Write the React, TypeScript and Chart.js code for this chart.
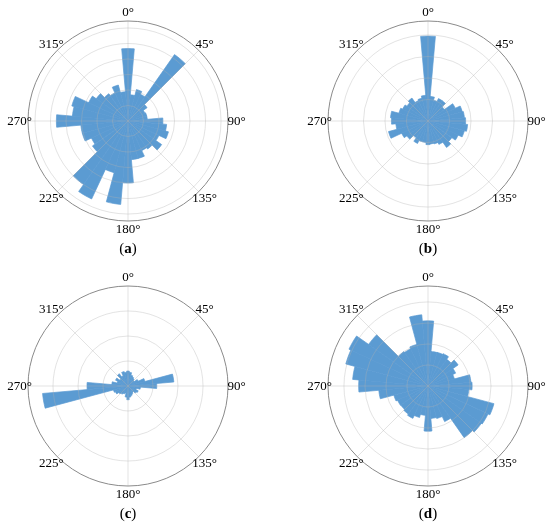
import React, { useEffect, useRef } from 'react';
import { Chart, registerables } from 'chart.js';

Chart.register(...registerables);

// 36 direction bins of 10°, each centred on its label
const binLabels = [
  '0°', '10°', '20°', '30°', '40°', '50°', '60°', '70°', '80°',
  '90°', '100°', '110°', '120°', '130°', '140°', '150°', '160°', '170°',
  '180°', '190°', '200°', '210°', '220°', '230°', '240°', '250°', '260°',
  '270°', '280°', '290°', '300°', '310°', '320°', '330°', '340°', '350°',
];

// angular tick labels
const directionAngles = [0, 45, 90, 135, 180, 225, 270, 315];
const directionLabels = ['0°', '45°', '90°', '135°', '180°', '225°', '270°', '315°'];

// frequencies per bin (radial units = grid rings)
const roseA = [
  4.67, 1.7, 2.1, 1.9, 5.23, 1.5, 1.2, 1.25, 1.25,
  2.25, 2.5, 2.7, 2.2, 2.65, 2.2, 2.1, 2.5, 2.5,
  4.0, 5.4, 3.45, 5.55, 5.0, 2.8, 2.6, 3.05, 3.05,
  4.62, 3.6, 3.75, 2.8, 2.5, 2.15, 2.0, 2.4, 1.9,
];
const roseB = [
  3.95, 1.15, 1.0, 1.15, 1.15, 0.93, 1.4, 1.65, 1.7,
  1.75, 1.85, 1.75, 1.55, 1.35, 1.5, 1.2, 1.1, 1.07,
  1.1, 1.0, 1.0, 1.15, 0.95, 1.2, 1.35, 1.9, 1.5,
  1.7, 1.75, 1.4, 1.3, 1.2, 1.3, 1.05, 1.1, 1.2,
];
const roseC = [
  0.6, 0.55, 0.45, 0.4, 0.35, 0.3, 0.45, 0.7, 1.84,
  1.15, 0.5, 0.35, 0.45, 0.4, 0.3, 0.35, 0.4, 0.45,
  0.55, 0.45, 0.3, 0.35, 0.4, 0.45, 0.55, 0.6, 3.43,
  1.64, 0.65, 0.45, 0.55, 0.4, 0.6, 0.45, 0.6, 0.55,
];
const roseD = [
  3.1, 1.65, 1.66, 1.7, 1.55, 1.75, 1.45, 1.3, 2.05,
  2.1, 1.95, 3.25, 3.15, 3.1, 3.0, 1.87, 1.6, 1.55,
  2.15, 1.4, 1.55, 1.7, 1.63, 1.58, 1.6, 1.68, 2.35,
  3.3, 3.6, 4.05, 4.15, 3.45, 2.0, 1.95, 2.05, 3.4,
];

// radial axis limits (outer circle) per panel
const radialMax = [6.45, 4.65, 4.0, 4.76];
const panelLetters = ['a', 'b', 'c', 'd'];

const BAR = '#5b9bd2';
const RADIUS = 100;
const PAD = 30;
const SIZE = RADIUS * 2 + PAD * 2;

const overlay = {
  id: 'roseOverlay',
  afterDatasetsDraw(chart: any) {
    const r = chart.scales.r;
    const ctx = chart.ctx as CanvasRenderingContext2D;
    const cx = r.xCenter;
    const cy = r.yCenter;
    const R = r.drawingArea;
    ctx.save();
    ctx.strokeStyle = 'rgba(176,176,176,0.45)';
    ctx.lineWidth = 0.8;
    r.ticks.forEach((t: any) => {
      if (t.value > 0 && t.value < r.max) {
        const d = r.getDistanceFromCenterForValue(t.value);
        ctx.beginPath();
        ctx.arc(cx, cy, d, 0, Math.PI * 2);
        ctx.stroke();
      }
    });
    directionAngles.forEach((a) => {
      const rad = (a * Math.PI) / 180;
      ctx.beginPath();
      ctx.moveTo(cx, cy);
      ctx.lineTo(cx + R * Math.sin(rad), cy - R * Math.cos(rad));
      ctx.stroke();
    });
    ctx.strokeStyle = '#8a8a8a';
    ctx.lineWidth = 1;
    ctx.beginPath();
    ctx.arc(cx, cy, R, 0, Math.PI * 2);
    ctx.stroke();
    ctx.fillStyle = '#000';
    ctx.font = '13px "Liberation Serif"';
    ctx.textAlign = 'center';
    ctx.textBaseline = 'middle';
    directionAngles.forEach((a, i) => {
      const rad = (a * Math.PI) / 180;
      const d = R + 8.5;
      ctx.fillText(directionLabels[i], cx + d * Math.sin(rad), cy - d * Math.cos(rad) + 0.5);
    });
    ctx.restore();
  },
};

function RosePanel(props: { values: number[]; max: number; cx: number; cy: number; letter: string }) {
  const ref = useRef<HTMLCanvasElement>(null);
  useEffect(() => {
    const chart = new Chart(ref.current as HTMLCanvasElement, {
      type: 'polarArea',
      data: {
        labels: binLabels,
        datasets: [
          {
            data: props.values,
            backgroundColor: BAR,
            borderColor: BAR,
            borderWidth: 0.7,
          },
        ],
      },
      options: {
        responsive: false,
        animation: false,
        layout: { padding: PAD },
        plugins: { legend: { display: false }, tooltip: { enabled: false } },
        scales: {
          r: {
            min: 0,
            max: props.max,
            startAngle: -5,
            ticks: { display: false, stepSize: 1, includeBounds: false },
            grid: { display: false },
            angleLines: { display: false },
            pointLabels: { display: false },
          },
        },
      } as any,
      plugins: [overlay],
    });
    return () => chart.destroy();
  }, []);
  return (
    <>
      <canvas
        ref={ref}
        width={SIZE}
        height={SIZE}
        style={{ position: 'absolute', left: props.cx - SIZE / 2, top: props.cy - SIZE / 2, width: SIZE, height: SIZE }}
      />
      <div
        style={{
          position: 'absolute',
          left: props.cx - 40,
          width: 80,
          top: props.cy + 118,
          textAlign: 'center',
          fontFamily: '"Liberation Serif", serif',
          fontSize: 15,
          lineHeight: '18px',
          color: '#000',
        }}
      >
        (<b>{props.letter}</b>)
      </div>
    </>
  );
}

const rosePanels = [roseA, roseB, roseC, roseD];
const centers = [
  [128, 121],
  [428, 121],
  [128, 386],
  [428, 386],
];

export default function App() {
  return (
    <div style={{ position: 'absolute', left: 0, top: 0, width: 550, height: 531, background: '#fff' }}>
      {rosePanels.map((vals, i) => (
        <RosePanel
          key={i}
          values={vals}
          max={radialMax[i]}
          cx={centers[i][0]}
          cy={centers[i][1]}
          letter={panelLetters[i]}
        />
      ))}
    </div>
  );
}
